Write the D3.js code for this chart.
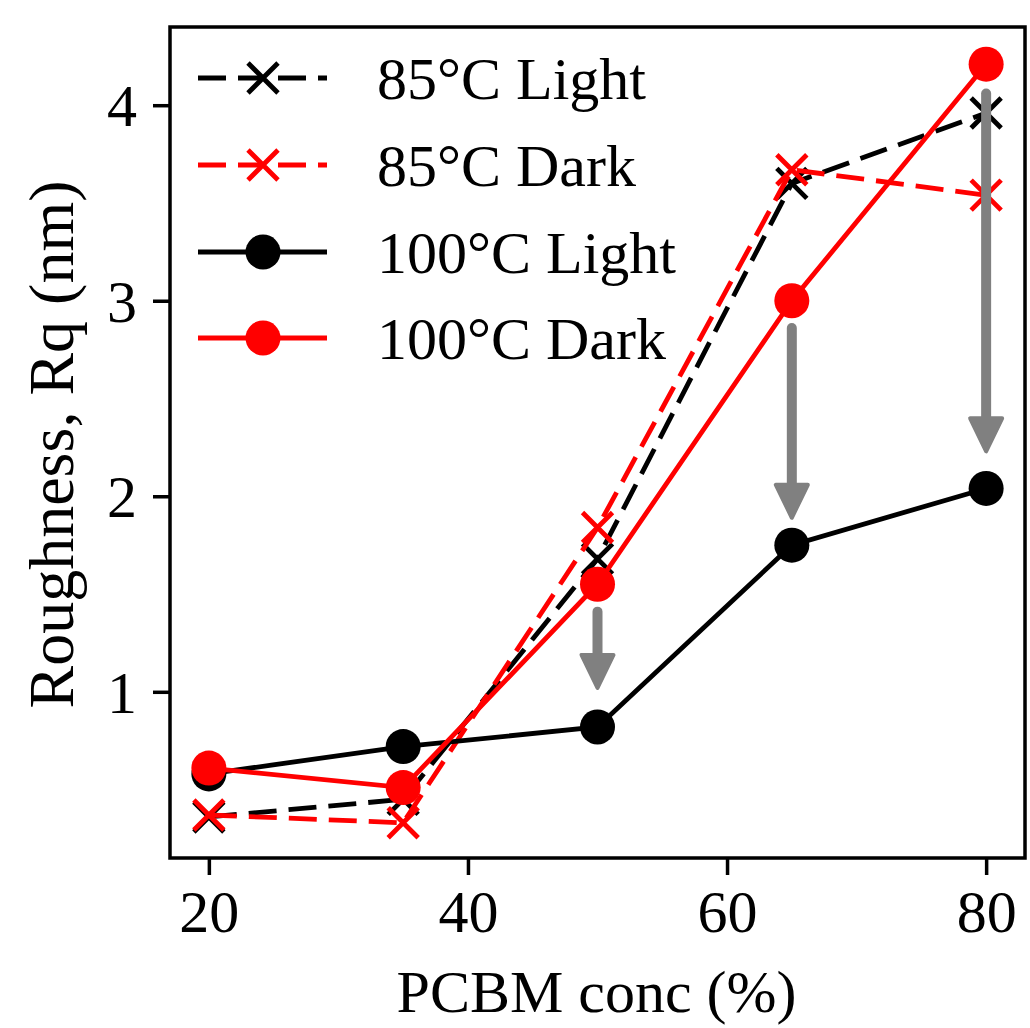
<!DOCTYPE html>
<html lang="en">
<head>
<meta charset="utf-8">
<title>Roughness vs PCBM conc</title>
<script src="https://d3js.org/d3.v7.min.js"></script>
<style>
  body { margin: 0; background: #fff; }
  text { font-family: "Liberation Serif", "Times New Roman", serif; fill: #000; }
</style>
</head>
<body>
<div id="chart"></div>
<script>
// data
const conc = [20, 35, 50, 65, 80];
const light85 = [0.36, 0.45, 1.68, 3.60, 3.96];
const dark85 = [0.37, 0.33, 1.84, 3.67, 3.54];
const light100 = [0.58, 0.72, 0.82, 1.75, 2.04];
const dark100 = [0.61, 0.51, 1.55, 3.00, 4.21];
const xTicks = [20, 40, 60, 80];
const yTicks = [1, 2, 3, 4];
// gray arrows: x, start value, tip value
const arrowX = [50, 65, 80];
const arrowFrom = [1.41, 2.86, 4.06];
const arrowTo = [1.02, 1.89, 2.23];

const series = [
  {name: "85\u00B0C Light", values: light85, color: "#000", dash: "28,12", marker: "x"},
  {name: "85\u00B0C Dark", values: dark85, color: "#ff0000", dash: "28,12", marker: "x"},
  {name: "100\u00B0C Light", values: light100, color: "#000", dash: null, marker: "o"},
  {name: "100\u00B0C Dark", values: dark100, color: "#ff0000", dash: null, marker: "o"}
];

const width = 1030, height = 1028;
const plotL = 170, plotR = 1025, plotT = 27, plotB = 858;

const svg = d3.select("#chart").append("svg")
    .attr("width", width)
    .attr("height", height)
    .attr("viewBox", [0, 0, width, height]);

const x = d3.scaleLinear().domain([17, 83]).range([plotL, plotR]);
const y = d3.scaleLinear().domain([0.15, 4.40]).range([plotB, plotT]);

// axes
const xAxis = svg.append("g")
    .attr("transform", `translate(0,${plotB})`)
    .call(d3.axisBottom(x).tickValues(xTicks).tickSize(17).tickPadding(14));
const yAxis = svg.append("g")
    .attr("transform", `translate(${plotL},0)`)
    .call(d3.axisLeft(y).tickValues(yTicks).tickFormat(d3.format("d")).tickSize(17).tickPadding(16));
[xAxis, yAxis].forEach(g => {
  g.select(".domain").remove();
  g.selectAll(".tick line").attr("stroke", "#000").attr("stroke-width", 3.5);
  g.selectAll(".tick text").attr("font-size", 60).attr("font-family", "Liberation Serif");
});
xAxis.selectAll(".tick text").attr("dy", "0.72em");
yAxis.selectAll(".tick text").attr("dy", "0.34em");

// frame
svg.append("rect")
    .attr("x", plotL).attr("y", plotT)
    .attr("width", plotR - plotL).attr("height", plotB - plotT)
    .attr("fill", "none").attr("stroke", "#000").attr("stroke-width", 3.5);

// axis labels
svg.append("text")
    .attr("x", (plotL + plotR) / 2 - 1)
    .attr("y", 1012)
    .attr("text-anchor", "middle")
    .attr("font-size", 60)
    .text("PCBM conc (%)");
svg.append("text")
    .attr("transform", `translate(73,${(plotT + plotB) / 2 + 2}) rotate(-90)`)
    .attr("text-anchor", "middle")
    .attr("font-size", 64)
    .text("Roughness, Rq (nm)");

function drawMarker(g, type, cx, cy, color) {
  if (type === "o") {
    g.append("circle").attr("cx", cx).attr("cy", cy).attr("r", 17.5).attr("fill", color);
  } else {
    const s = 15;
    g.append("path")
        .attr("d", `M${cx - s},${cy - s}L${cx + s},${cy + s}M${cx - s},${cy + s}L${cx + s},${cy - s}`)
        .attr("stroke", color).attr("stroke-width", 4.8).attr("fill", "none");
  }
}

const line = d3.line().x((d, i) => x(conc[i])).y(d => y(d));

series.forEach(s => {
  const g = svg.append("g");
  g.append("path")
      .attr("d", line(s.values))
      .attr("fill", "none")
      .attr("stroke", s.color)
      .attr("stroke-width", 4.8)
      .attr("stroke-dasharray", s.dash);
  s.values.forEach((v, i) => drawMarker(g, s.marker, x(conc[i]), y(v), s.color));
});

// arrows
const arrows = svg.append("g");
arrowX.forEach((ax, i) => {
  const cx = x(ax), y0 = y(arrowFrom[i]), y1 = y(arrowTo[i]);
  const headLen = 33, headHalf = 16;
  arrows.append("line")
      .attr("x1", cx).attr("x2", cx)
      .attr("y1", y0).attr("y2", y1 - headLen + 4)
      .attr("stroke", "#808080").attr("stroke-width", 10).attr("stroke-linecap", "round");
  arrows.append("path")
      .attr("d", `M${cx - headHalf},${y1 - headLen}L${cx + headHalf},${y1 - headLen}L${cx},${y1}Z`)
      .attr("fill", "#808080").attr("stroke", "#808080")
      .attr("stroke-width", 4).attr("stroke-linejoin", "round");
});

// legend
const legend = svg.append("g");
const rowY = [78, 165, 252, 338];
series.forEach((s, i) => {
  const yy = rowY[i];
  legend.append("line")
      .attr("x1", 198).attr("x2", 327).attr("y1", yy).attr("y2", yy)
      .attr("stroke", s.color).attr("stroke-width", 4.8)
      .attr("stroke-dasharray", s.dash);
  drawMarker(legend, s.marker, 263, yy, s.color);
  legend.append("text")
      .attr("x", 377).attr("y", yy + 21)
      .attr("font-size", 60)
      .text(s.name);
});
</script>
</body>
</html>
